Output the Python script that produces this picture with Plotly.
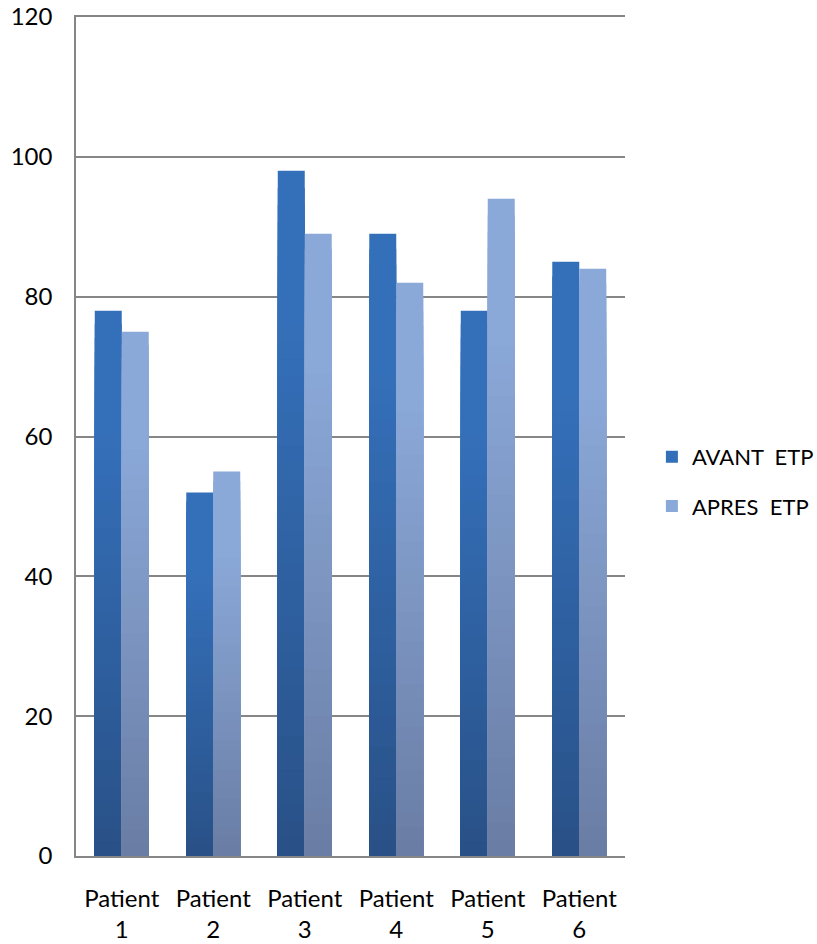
import plotly.graph_objects as go

categories = ["Patient<br>1", "Patient<br>2", "Patient<br>3", "Patient<br>4", "Patient<br>5", "Patient<br>6"]
avant_etp = [78, 52, 98, 89, 78, 85]
apres_etp = [75, 55, 89, 82, 94, 84]
series_names = ["AVANT\u00a0\u00a0ETP", "APRES\u00a0\u00a0ETP"]

# gradient colours (top, bottom) per series
grad = [((52, 112, 186), (41, 80, 134)), ((138, 168, 216), (105, 124, 163))]

FONT = "Lato"
FS = 24
N = 40
W = 0.295

def mix(c1, c2, t):
    return "rgb(%d,%d,%d)" % tuple(round(a + (b - a) * t) for a, b in zip(c1, c2))

fig = go.Figure()
for si, (vals, name) in enumerate(zip([avant_etp, apres_etp], series_names)):
    top, bot = grad[si]
    for k in range(N):
        frac = 1 - k / N          # fraction of bar height (1 = full bar)
        t = 1 - frac               # 0 at top, ~1 at bottom
        tt = 0 if t < 0.2 else (t - 0.2) / 0.8
        fig.add_trace(go.Bar(
            x=categories,
            y=[v * frac for v in vals],
            width=W,
            offset=-W if si == 0 else 0,
            marker=dict(color=mix(top, bot, tt), line=dict(width=0)),
            name=name,
            showlegend=(k == 0),
            legendgroup=name,
            legend="legend" if si == 0 else "legend2",
            hoverinfo="skip" if k else None,
        ))

fig.update_layout(
    width=817, height=944,
    margin=dict(l=76, r=192, t=17, b=88, autoexpand=False),
    paper_bgcolor="white", plot_bgcolor="white",
    barmode="overlay",
    font=dict(family=FONT, size=FS, color="black"),
    showlegend=True,
    legend=dict(x=1.049, y=0.4756, xanchor="left", yanchor="middle",
                font=dict(family=FONT, size=22), bgcolor="rgba(0,0,0,0)"),
    legend2=dict(x=1.049, y=0.417, xanchor="left", yanchor="middle",
                 font=dict(family=FONT, size=22), bgcolor="rgba(0,0,0,0)"),
)
fig.update_yaxes(
    range=[0, 120], dtick=20, tick0=0,
    showgrid=True, gridcolor="#868686", gridwidth=1.5,
    showline=True, linecolor="#868686", linewidth=1.5,
    zeroline=False, automargin=False,
    ticks="outside", ticklen=17, tickcolor="rgba(0,0,0,0)",
    tickfont=dict(family=FONT, size=FS),
)
fig.update_xaxes(
    showline=True, linecolor="#868686", linewidth=1.5, mirror=True,
    showgrid=False, automargin=False,
    ticks="outside", ticklen=20, tickcolor="rgba(0,0,0,0)",
    tickfont=dict(family=FONT, size=FS),
)

fig.write_html(
    "out.html",
    config={"displayModeBar": False},
    post_script="document.body.style.margin='0';document.body.style.overflow='hidden';",
)
